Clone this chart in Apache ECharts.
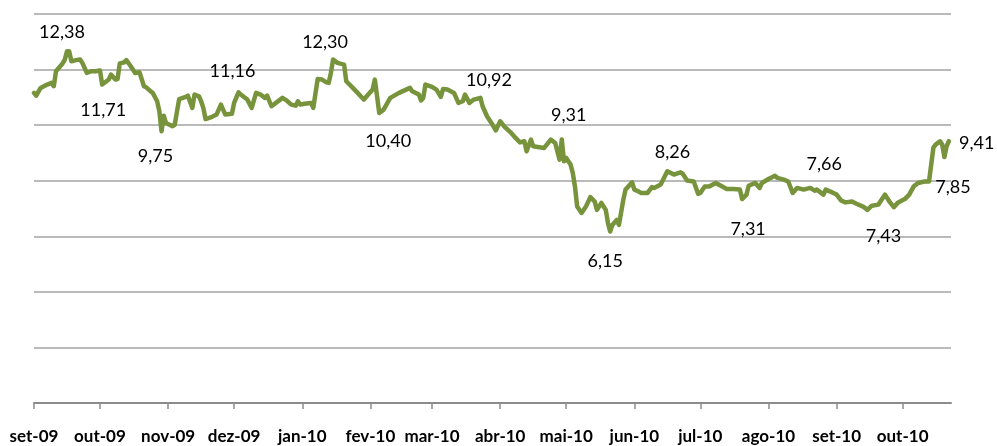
<!DOCTYPE html>
<html>
<head>
<meta charset="utf-8">
<script src="https://cdn.jsdelivr.net/npm/echarts@6/dist/echarts.min.js"></script>
<style>
html,body{margin:0;padding:0;background:#fff;}
#chart{width:997px;height:446px;}
</style>
</head>
<body>
<div id="chart"></div>
<script>
// Month tick labels and their day offsets (days since 1 Sep 2009)
var monthLabels = ['set-09','out-09','nov-09','dez-09','jan-10','fev-10','mar-10','abr-10','mai-10','jun-10','jul-10','ago-10','set-10','out-10'];
var monthStarts = [0,30,61,91,122,153,181,212,242,273,303,334,365,395];

// Series: day offset and value
var days = [0,1,3,6,8,9,10,13,14,15,16,17,19,21,22,24,26,28,30,31,34,35,37,38,39,41,42,44,46,48,50,51,54,56,57,58,59,60,63,64,66,69,70,
72,73,75,76,77,78,81,83,85,87,90,91,93,94,97,99,101,103,105,106,108,110,113,115,117,119,120,121,123,126,127,129,131,133,134,135,136,138,141,
142,145,150,152,154,155,157,159,162,166,171,172,175,176,177,178,181,183,185,186,188,191,193,195,196,198,200,203,204,206,208,210,212,214,217,219,221,223,224,226,227,232,235,237,239,240,241,242,244,245,246,247,249,251,253,255,256,258,260,261,262,263,265,266,268,269,272,273,275,276,279,281,282,
285,288,291,294,295,297,300,302,303,305,307,310,313,315,318,321,322,324,325,328,330,331,334,337,338,341,343,345,347,350,353,355,356,359,360,363,365,367,369,372,374,377,379,381,384,387,389,391,393,396,398,400,402,405,407,409,410,412,413,414,415,416];
var values = [11.16,11.06,11.34,11.46,11.52,11.40,11.94,12.22,12.36,12.66,12.66,12.30,12.34,12.36,12.24,11.88,11.94,11.94,11.97,11.46,11.64,11.82,11.64,11.66,12.22,12.26,12.34,12.12,11.88,11.90,11.40,11.36,11.16,10.86,10.50,9.78,10.34,10.08,9.96,10.02,10.94,11.02,11.06,
10.62,11.10,11.04,10.86,10.62,10.22,10.30,10.38,10.74,10.38,10.41,10.80,11.18,11.10,10.92,10.62,11.16,11.10,10.98,11.06,10.68,10.80,10.98,10.88,10.74,10.70,10.86,10.74,10.77,10.80,10.62,11.66,11.64,11.54,11.52,11.88,12.36,12.24,12.18,
11.58,11.34,10.92,11.10,11.28,11.64,10.44,10.56,10.98,11.16,11.34,11.22,11.10,10.89,10.98,11.46,11.38,11.28,11.02,11.30,11.28,11.16,10.80,10.86,11.10,10.80,10.92,10.98,10.68,10.32,10.08,9.81,10.14,9.94,9.72,9.54,9.38,9.42,9.06,9.48,9.24,9.18,9.48,9.36,8.76,9.48,8.70,8.82,8.58,8.28,7.79,7.07,6.84,7.07,7.41,7.25,6.95,7.20,6.95,6.48,6.17,6.41,6.59,6.41,7.32,7.68,7.94,7.68,7.61,7.56,7.56,7.77,7.74,
7.86,8.34,8.22,8.30,8.25,8.01,7.97,7.53,7.56,7.79,7.79,7.92,7.79,7.70,7.70,7.68,7.34,7.50,7.82,7.92,7.74,7.92,8.06,8.18,8.10,8.04,7.97,7.56,7.74,7.68,7.74,7.64,7.68,7.50,7.68,7.58,7.50,7.29,7.22,7.25,7.17,7.07,6.95,7.10,7.14,7.50,7.25,7.05,7.22,7.34,7.50,7.79,7.92,7.97,7.97,9.19,9.30,9.42,9.30,8.85,9.24,9.42];

// Annotated points (day offset) and their label texts
var annotDays  = [15, 31, 58, 93, 136, 157, 196, 240, 294, 262, 353, 322, 379, 407, 416];
var annotTexts = ['12,38','11,71','9,75','11,16','12,30','10,40','10,92','9,31','8,26','6,15','7,66','7,31','7,43','7,85','9,41'];

// label offsets (style only)
var annotOffsets = [[-5,-19],[1,26],[-6,25],[-6,-21],[-8,-17],[9,28],[24,-14],[7,-24],[-8,-20],[-5,30],[14,-24],[6,30],[16,26],[24,6],[28,2]];

var seriesData = days.map(function(d, i){
  var k = annotDays.indexOf(d);
  if (k >= 0) {
    return {value:[d, values[i]], label:{show:true, position:'inside', formatter:annotTexts[k], offset:annotOffsets[k]}};
  }
  return [d, values[i]];
});

var chart = echarts.init(document.getElementById('chart'), null, {renderer:'canvas'});
chart.setOption({
  animation:false,
  backgroundColor:'#fff',
  grid:{left:34, right:46, top:14, bottom:43, containLabel:false},
  xAxis:{
    type:'value', min:0, max:417,
    axisLine:{show:true, lineStyle:{color:'#8c8c8c', width:2}},
    axisTick:{show:true, customValues:monthStarts, length:6, lineStyle:{color:'#8c8c8c', width:1.5}},
    axisLabel:{show:true, customValues:monthStarts, margin:25, color:'#000', fontFamily:'Lato', fontWeight:'bold', fontSize:17,
      formatter:function(v){ var k = monthStarts.indexOf(Math.round(v)); return k>=0 ? monthLabels[k] : ''; }},
    splitLine:{show:false}
  },
  yAxis:{
    type:'value', min:0, max:14, interval:2,
    axisLine:{show:false}, axisTick:{show:false}, axisLabel:{show:false},
    splitLine:{show:true, lineStyle:{color:'#a3a3a3', width:1.5}}
  },
  series:[{
    type:'line',
    data:seriesData,
    symbol:'circle', symbolSize:0, showSymbol:true, showAllSymbol:true,
    lineStyle:{color:'#77933C', width:4.5, join:'round', cap:'round'},
    itemStyle:{color:'#77933C'},
    label:{show:false, color:'#000', fontFamily:'Lato', fontSize:18},
    emphasis:{disabled:true},
    z:3
  }]
});
</script>
</body>
</html>
